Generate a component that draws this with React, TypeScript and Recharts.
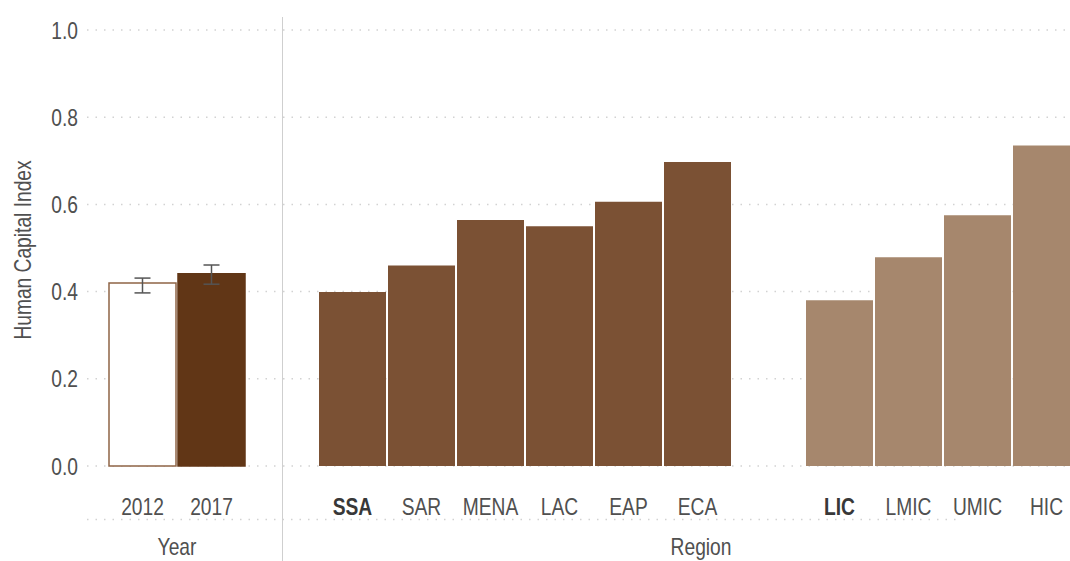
import React from 'react';
import { BarChart, Bar, XAxis, YAxis, CartesianGrid, Cell, ErrorBar } from 'recharts';

// condensed look: Liberation Sans squeezed horizontally
const FONT = '"Liberation Sans", Arial, sans-serif';
const SQUEEZE = 0.8;
const TEXT_COLOR = '#505050';

// Human Capital Index by year (with confidence interval)
const years = ['2012', '2017'];
const yearValues = [0.42, 0.441];
const yearLow = [0.397, 0.417];
const yearHigh = [0.431, 0.461];

// by region
const regions = ['SSA', 'SAR', 'MENA', 'LAC', 'EAP', 'ECA'];
const regionValues = [0.399, 0.46, 0.564, 0.55, 0.606, 0.697];

// by income group
const incomeGroups = ['LIC', 'LMIC', 'UMIC', 'HIC'];
const incomeValues = [0.38, 0.479, 0.575, 0.735];

const yTicks = [0, 0.2, 0.4, 0.6, 0.8, 1.0];
const boldTicks = ['SSA', 'LIC'];

const yearData = years.map((year, i) => ({
  name: year,
  value: yearValues[i],
  err: [yearValues[i] - yearLow[i], yearHigh[i] - yearValues[i]],
}));
const regionData = regions.map((r, i) => ({ name: r, value: regionValues[i] }));
const incomeData = incomeGroups.map((g, i) => ({ name: g, value: incomeValues[i] }));

const yearColors = [
  { fill: '#ffffff', stroke: '#8f6446' },
  { fill: '#613616', stroke: '#613616' },
];

const H = 561;
const MARGIN = { top: 30, right: 0, bottom: 35, left: 0 };
const GRID = { stroke: '#d2d2d2', strokeDasharray: '1.5 7', strokeWidth: 1.5 };

const NarrowText = ({ x, y, anchor = 'middle', size = 24, bold = false, rotate = 0, fill = TEXT_COLOR, children }: any) => (
  <text
    transform={`translate(${x},${y}) rotate(${rotate}) scale(${SQUEEZE},1)`}
    textAnchor={anchor}
    fill={fill}
    fontWeight={bold ? 700 : 400}
    fontSize={size}
    fontFamily={FONT}
  >
    {children}
  </text>
);

const CategoryTick = ({ x, y, payload }: any) => {
  const bold = boldTicks.includes(payload.value);
  return (
    <NarrowText x={x} y={y + 49} bold={bold} fill={bold ? '#383838' : TEXT_COLOR}>
      {payload.value}
    </NarrowText>
  );
};

const ValueTick = ({ x, y, payload }: any) => (
  <NarrowText x={x} y={y + 8.5} anchor="end">
    {Number(payload.value).toFixed(1)}
  </NarrowText>
);

const xAxisProps = {
  dataKey: 'name',
  height: 60,
  tickLine: false,
  axisLine: false,
  tickSize: 0,
  tickMargin: 0,
  interval: 0 as const,
  tick: <CategoryTick />,
};

export default function App() {
  return (
    <div style={{ position: 'absolute', left: 0, top: 0, width: 1070, height: H, overflow: 'hidden', background: '#fff' }}>
      {/* Year panel with the y axis */}
      <div style={{ position: 'absolute', left: 0, top: 0 }}>
        <BarChart width={283} height={H} data={yearData} margin={MARGIN} barCategoryGap={1}>
          <CartesianGrid vertical={false} {...GRID} />
          <XAxis {...xAxisProps} padding={{ left: 21, right: 37 }} />
          <YAxis
            domain={[0, 1]}
            ticks={yTicks}
            width={87}
            tickLine={false}
            axisLine={false}
            tickSize={0}
            tickMargin={9}
            tick={<ValueTick />}
          />
          <Bar dataKey="value" isAnimationActive={false} barSize={67} strokeWidth={1.5}>
            {yearData.map((d, i) => (
              <Cell key={d.name} fill={yearColors[i].fill} stroke={yearColors[i].stroke} />
            ))}
            <ErrorBar dataKey="err" width={8} stroke="#555" strokeWidth={1.5} />
          </Bar>
        </BarChart>
      </div>

      {/* Region panel */}
      <div style={{ position: 'absolute', left: 283, top: 0 }}>
        <BarChart width={449} height={H} data={regionData} margin={MARGIN} barCategoryGap={1}>
          <CartesianGrid vertical={false} {...GRID} />
          <XAxis {...xAxisProps} padding={{ left: 35, right: 0 }} />
          <YAxis hide domain={[0, 1]} ticks={yTicks} />
          <Bar dataKey="value" fill="#7b5134" isAnimationActive={false} barSize={67} />
        </BarChart>
      </div>

      {/* Income group panel */}
      <div style={{ position: 'absolute', left: 732, top: 0 }}>
        <BarChart width={349} height={H} data={incomeData} margin={MARGIN} barCategoryGap={1}>
          <CartesianGrid vertical={false} {...GRID} />
          <XAxis {...xAxisProps} padding={{ left: 73, right: 0 }} />
          <YAxis hide domain={[0, 1]} ticks={yTicks} />
          <Bar dataKey="value" fill="#a6876d" isAnimationActive={false} barSize={67} />
        </BarChart>
      </div>

      {/* panel divider, strip rule and axis titles */}
      <svg width={1070} height={H} style={{ position: 'absolute', left: 0, top: 0, pointerEvents: 'none' }}>
        <line x1={282.5} x2={282.5} y1={17} y2={H} stroke="#cfcfcf" strokeWidth={1} />
        <line x1={87} x2={960} y1={519.5} y2={519.5} {...GRID} />
        <NarrowText x={31} y={250} rotate={-90} size={24}>
          Human Capital Index
        </NarrowText>
        <NarrowText x={177} y={555}>Year</NarrowText>
        <NarrowText x={701} y={555}>Region</NarrowText>
      </svg>
    </div>
  );
}
